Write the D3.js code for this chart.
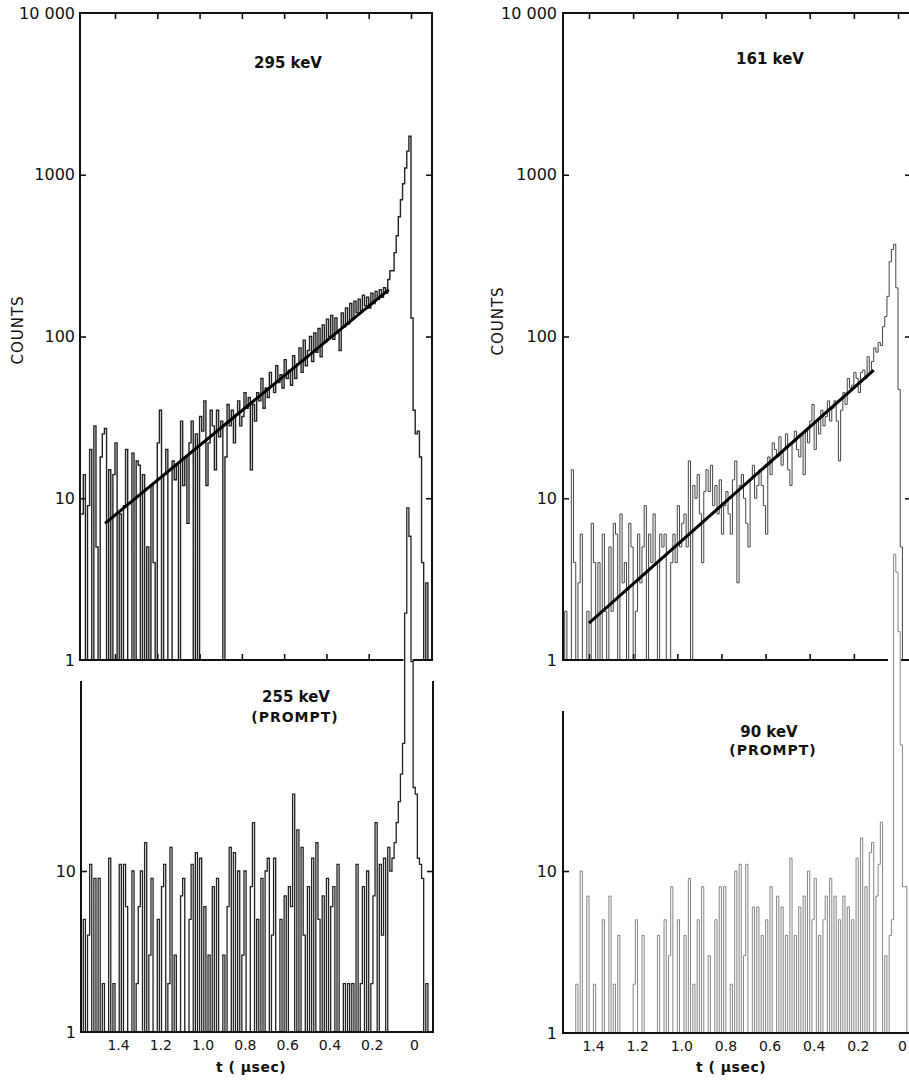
<!DOCTYPE html>
<html><head><meta charset="utf-8">
<script src="https://cdn.jsdelivr.net/npm/d3@7"></script>
<style>
body{margin:0;background:#fff;}
svg{display:block;}
text{font-family:"DejaVu Sans",sans-serif;fill:#111;}
</style></head><body>
<svg id="c" width="909" height="1080"></svg>
<script>
// ---------- data ----------
const binWidth = 0.01;          // microseconds per channel
const leftStart = 1.56;         // t of first channel, left panels
const rightStart = 1.52;        // t of first channel, right panels
const xTickValues = [1.4, 1.2, 1.0, 0.8, 0.6, 0.4, 0.2, 0];
const xTickLabels = ["1.4", "1.2", "1.0", "0.8", "0.6", "0.4", "0.2", "0"];
const yTopTicks = [1, 10, 100, 1000, 10000];
const yTopLabels = ["1", "10", "100", "1000", "10 000"];
const yBottomTicks = [1, 10];
const yBottomLabels = ["1", "10"];
const panelTitles = ["295 keV", "161 keV", "255 keV", "90 keV"];

const counts295 = [
  8,14,1,9,20,1,28,5,1,18,
  25,27,1,15,1,14,22,1,8,1,
  9,20,1,1,19,1,17,16,1,14,
  1,5,1,12,4,1,22,35,1,14,
  20,1,1,17,13,16,1,30,12,18,
  7,22,30,1,25,1,32,26,40,12,
  22,35,28,15,35,24,30,1,18,38,
  28,35,22,33,40,28,32,45,36,42,
  15,38,30,45,40,55,36,48,42,60,
  50,45,66,52,58,48,72,55,62,50,
  76,55,68,85,60,95,66,82,100,70,
  105,80,112,75,118,92,128,100,135,96,
  130,105,82,140,115,150,120,160,130,165,
  140,170,145,180,155,175,150,185,160,190,
  170,195,175,200,185,225,255,255,330,420,
  550,700,880,1100,1400,1730,130,35,25,26,
  18,4,1,3,1,1
];
const counts161 = [
  1,2,1,1,15,4,1,3,6,1,
  1,2,1,7,4,1,4,1,6,2,
  1,5,2,7,6,1,8,3,4,1,
  7,5,1,2,6,3,5,9,1,6,
  4,8,4,1,6,5,6,1,1,4,
  6,4,9,5,7,8,5,17,1,12,
  10,14,8,4,11,15,11,16,9,12,
  8,13,6,9,11,8,6,13,17,3,
  12,14,10,7,5,13,16,10,12,15,
  12,9,6,18,14,22,20,18,24,16,
  20,25,15,12,22,26,20,18,25,14,
  26,22,30,38,20,30,25,35,28,32,
  40,30,36,40,30,17,35,45,38,55,
  48,50,60,55,45,60,62,55,75,60,
  70,85,80,92,88,115,133,177,290,345,
  372,200,47,5,1,0,0,0
];
const counts255 = [
  1,5,1,4,11,1,9,1,9,1,
  2,1,1,12,1,2,1,1,11,1,
  11,6,1,1,10,1,2,6,10,1,
  15,1,3,9,1,1,5,1,8,11,
  1,2,14,1,3,1,1,7,9,1,
  1,5,11,1,13,1,12,1,6,1,
  3,1,8,1,9,1,1,3,1,6,
  14,1,13,1,10,1,3,10,1,1,
  8,20,1,5,1,9,1,10,12,1,
  4,12,1,1,5,1,7,1,8,6,
  30,1,18,1,14,4,1,8,1,12,
  1,15,5,1,7,1,9,1,6,8,
  1,11,1,1,2,1,2,1,2,1,
  11,1,2,8,1,10,1,2,7,20,
  1,11,4,12,1,14,10,12,15,20,
  27,40,62,400,1800,1200,200,33,30,12,
  11,9,1,2,1,1
];
const counts90 = [
  1,1,1,1,1,1,2,1,10,1,
  1,7,1,1,2,1,1,1,5,1,
  1,7,1,2,1,4,1,1,1,1,
  1,1,2,5,1,1,4,1,1,1,
  1,1,1,4,1,1,5,1,3,8,
  1,1,5,1,1,4,1,9,1,2,
  1,5,1,8,1,1,3,1,1,5,
  1,8,1,8,1,1,2,1,10,1,
  11,1,3,11,1,1,6,1,6,1,
  4,1,5,1,8,1,1,7,1,6,
  1,4,1,12,1,4,1,6,1,7,
  1,10,1,5,9,1,4,1,5,7,
  1,9,1,7,1,5,1,7,1,6,
  1,5,1,12,1,16,1,8,1,13,
  15,1,7,11,20,1,3,1,4,5,
  900,700,300,60,8,8,1,1
];
const fit295 = [{t: 1.447, c: 7.0}, {t: 0.105, c: 195}];
const fit161 = [{t: 1.40, c: 1.69}, {t: 0.11, c: 62}];

// ---------- scales ----------
const svg = d3.select("#c");
const xLeft = d3.scaleLinear().domain([0, 1.4]).range([411, 115]);
const xRight = d3.scaleLinear().domain([0, 1.4]).range([898, 589]);
const yTop = d3.scaleLog().domain([1, 10000]).range([660, 13]);
const yBL = d3.scaleLog().domain([1, 10]).range([1032, 871]);
const yBR = d3.scaleLog().domain([1, 10]).range([1033, 871]);

function histPath(counts, start, xs, ys) {
  const pts = [];
  counts.forEach((c, i) => {
    const a = start - i * binWidth, b = a - binWidth;
    const v = Math.max(c, 1);
    pts.push([xs(a), ys(v)], [xs(b), ys(v)]);
  });
  return d3.line()(pts);
}

function line(x1, y1, x2, y2, w) {
  svg.append("line").attr("x1", x1).attr("y1", y1).attr("x2", x2).attr("y2", y2)
    .attr("stroke", "#111").attr("stroke-width", w || 2).attr("stroke-linecap", "square");
}

function tickAxis(gen, tx, ty) {
  const g = svg.append("g").attr("transform", `translate(${tx},${ty})`).call(gen);
  g.select(".domain").remove();
  g.selectAll(".tick line").attr("stroke", "#111").attr("stroke-width", 1.6);
  return g;
}

function labelAxis(gen, tx, ty, size) {
  const g = svg.append("g").attr("transform", `translate(${tx},${ty})`).call(gen);
  g.select(".domain").remove();
  g.selectAll(".tick line").remove();
  g.selectAll("text").attr("font-size", size).attr("font-family", "DejaVu Sans").attr("fill", "#111");
  return g;
}

// ---------- histograms (drawn first, frames on top) ----------
svg.append("path").attr("d", histPath(counts255, leftStart, xLeft, yBL))
  .attr("fill", "none").attr("stroke", "#222").attr("stroke-width", 1.3);
svg.append("path").attr("d", histPath(counts90, rightStart, xRight, yBR))
  .attr("fill", "none").attr("stroke", "#777").attr("stroke-width", 0.9);
svg.append("path").attr("d", histPath(counts295, leftStart, xLeft, yTop))
  .attr("fill", "none").attr("stroke", "#222").attr("stroke-width", 1.4);
svg.append("path").attr("d", histPath(counts161, rightStart, xRight, yTop))
  .attr("fill", "none").attr("stroke", "#444").attr("stroke-width", 1.0);

// fitted exponentials
const fitLineL = d3.line().x(d => xLeft(d.t)).y(d => yTop(d.c));
const fitLineR = d3.line().x(d => xRight(d.t)).y(d => yTop(d.c));
svg.append("path").attr("d", fitLineL(fit295)).attr("stroke", "#000").attr("stroke-width", 3).attr("fill", "none");
svg.append("path").attr("d", fitLineR(fit161)).attr("stroke", "#000").attr("stroke-width", 3).attr("fill", "none");

// ---------- frames ----------
line(80, 13, 432, 13); line(80, 13, 80, 660); line(432, 13, 432, 660);
line(80, 660, xLeft(0.04), 660); line(xLeft(-0.012), 660, 432, 660);
line(563, 13, 912, 13); line(563, 13, 563, 660); line(911, 13, 911, 660);
line(563, 660, xRight(0.05), 660); line(xRight(-0.018), 660, 912, 660);
line(81, 682, 81, 1032); line(433, 682, 433, 1032); line(81, 1032, 433, 1032);
line(563, 712, 563, 1033); line(911, 712, 911, 1033); line(563, 1033, 912, 1033);

// ---------- ticks ----------
tickAxis(d3.axisBottom(xLeft).tickValues(xTickValues).tickSize(6).tickFormat(""), 0, 13);
tickAxis(d3.axisTop(xLeft).tickValues(xTickValues.slice(0, 7)).tickSize(6).tickFormat(""), 0, 660);
tickAxis(d3.axisBottom(xRight).tickValues(xTickValues).tickSize(6).tickFormat(""), 0, 13);
tickAxis(d3.axisTop(xRight).tickValues(xTickValues.slice(0, 7)).tickSize(6).tickFormat(""), 0, 660);

tickAxis(d3.axisRight(yTop).tickValues([10, 100, 1000]).tickSize(6).tickFormat(""), 80, 0);
tickAxis(d3.axisLeft(yTop).tickValues([10, 100, 1000]).tickSize(6).tickFormat(""), 432, 0);
tickAxis(d3.axisRight(yTop).tickValues([10, 100, 1000]).tickSize(6).tickFormat(""), 563, 0);
tickAxis(d3.axisLeft(yTop).tickValues([10, 100, 1000]).tickSize(6).tickFormat(""), 911, 0);
tickAxis(d3.axisRight(yBL).tickValues([10]).tickSize(6).tickFormat(""), 81, 0);
tickAxis(d3.axisLeft(yBL).tickValues([10]).tickSize(6).tickFormat(""), 433, 0);
tickAxis(d3.axisRight(yBR).tickValues([10]).tickSize(6).tickFormat(""), 563, 0);

// ---------- tick labels ----------
labelAxis(d3.axisLeft(yTop).tickValues(yTopTicks).tickFormat((d, i) => yTopLabels[i]).tickSize(0).tickPadding(5), 80, 0, 16);
labelAxis(d3.axisLeft(yTop).tickValues(yTopTicks).tickFormat((d, i) => yTopLabels[i]).tickSize(0).tickPadding(6), 563, 0, 16);
labelAxis(d3.axisLeft(yBL).tickValues(yBottomTicks).tickFormat((d, i) => yBottomLabels[i]).tickSize(0).tickPadding(5), 81, 0, 16);
labelAxis(d3.axisLeft(yBR).tickValues(yBottomTicks).tickFormat((d, i) => yBottomLabels[i]).tickSize(0).tickPadding(6), 563, 0, 16);

labelAxis(d3.axisBottom(xLeft).tickValues(xTickValues).tickFormat((d, i) => xTickLabels[i]).tickSize(0).tickPadding(8), 3, 1032, 14);
labelAxis(d3.axisBottom(xRight).tickValues(xTickValues).tickFormat((d, i) => xTickLabels[i]).tickSize(0).tickPadding(8), 4, 1033, 14);

// ---------- titles & axis names ----------
function txt(s, x, y, size, opts) {
  const t = svg.append("text").attr("x", x).attr("y", y).attr("font-size", size)
    .attr("text-anchor", "middle").text(s);
  if (opts && opts.rotate) t.attr("transform", `rotate(-90,${x},${y})`);
  if (opts && opts.ls) t.attr("letter-spacing", opts.ls);
  if (opts && opts.bold) t.attr("font-weight", "bold");
  return t;
}
txt(panelTitles[0], 288, 68, 15, {bold: true});
txt(panelTitles[1], 770, 64, 15, {bold: true});
txt(panelTitles[2], 296, 702, 15, {bold: true});
txt("(PROMPT)", 295, 722, 14, {ls: 1, bold: true});
txt(panelTitles[3], 769, 737, 15, {bold: true});
txt("(PROMPT)", 773, 755, 14, {ls: 1, bold: true});

txt("COUNTS", 23, 330, 15, {rotate: true, ls: 1});
txt("COUNTS", 503, 321, 15, {rotate: true, ls: 1});
txt("t ( μsec)", 251, 1072, 14, {ls: 0.5, bold: true});
txt("t ( μsec)", 731, 1072, 14, {ls: 0.5, bold: true});
</script>
</body></html>
